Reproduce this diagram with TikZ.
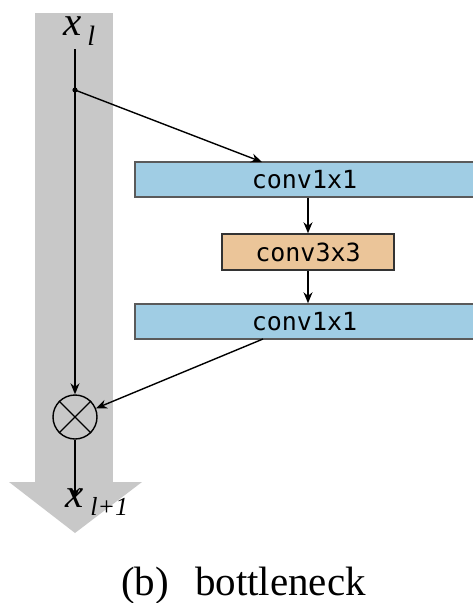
\documentclass[tikz,border=0pt]{standalone}
\usepackage{fontspec}
\setmainfont{Liberation Serif}
\newfontfamily\boxfont{DejaVu Sans Mono}
\usetikzlibrary{arrows.meta}
\definecolor{colgray}{RGB}{200,200,200}
\definecolor{boxblue}{RGB}{160,205,228}
\definecolor{boxorange}{RGB}{235,197,153}
\definecolor{boxedge}{RGB}{90,90,90}
\tikzset{
  flow/.style={draw=black, line width=1.4pt, -{Stealth[length=11pt,width=9pt]}},
  plainline/.style={draw=black, line width=1.4pt},
  bluebox/.style={draw=boxedge, fill=boxblue, line width=1.5pt, minimum width=339pt, minimum height=35pt, inner sep=0pt, font=\boxfont\fontsize{25}{27}\selectfont},
  orangebox/.style={draw=black!80, fill=boxorange, line width=1.5pt, minimum width=172pt, minimum height=36pt, inner sep=0pt, font=\boxfont\fontsize{25}{27}\selectfont},
  sumnode/.style={circle, draw=black, line width=1.4pt, minimum size=44pt, inner sep=0pt},
  labeltext/.style={inner sep=0pt, anchor=base west},
}
\begin{document}
\begin{tikzpicture}[x=1pt,y=-1pt]
\useasboundingbox (0,0) rectangle (472,603);
% gray highway
\fill[colgray] (35,13) rectangle (113,482);
\fill[colgray] (9,482) -- (142,482) -- (75,533) -- cycle;
% labels
\node[labeltext] (xl) at (63,35) {\fontsize{41}{43}\selectfont\itshape x\hspace{6pt}\raisebox{-10pt}{\fontsize{28}{30}\selectfont l}};
% boxes
\node[bluebox] (c1) at (304.5,179.5) {conv1x1};
\node[orangebox] (c2) at (308,252) {conv3x3};
\node[bluebox] (c3) at (304.5,321.5) {conv1x1};
% sum node
\node[sumnode] (add) at (75,417) {};
\draw[line width=1.4pt] (add.north west) -- (add.south east) (add.north east) -- (add.south west);
% coordinates
\coordinate (start) at (75,49);
\coordinate (split) at (75,90);
\coordinate (out) at (75,499);
\coordinate (c1in) at (262,162);
\coordinate (c3out) at (263,339);
% connectors
\draw[plainline] (start) -- (split);
\draw[flow] (split) -- (add.north);
\fill (split) circle (2.6pt);
\draw[flow] (split) -- (c1in);
\draw[flow] (c1.south -| c2.north) -- (c2.north);
\draw[flow] (c2.south) -- (c3.north -| c2.south);
\draw[flow] (c3out) -- (add);
\draw[flow] (add.south) -- (out);
% output label
\node[labeltext] (xl1) at (65,507) {\fontsize{41}{43}\selectfont\itshape x\hspace{7pt}\raisebox{-8pt}{\fontsize{26}{28}\selectfont l+1}};
% caption
\node[labeltext] (cap) at (121,595) {\fontsize{41}{43}\selectfont (b)\hspace{26pt}bottleneck};
\end{tikzpicture}
\end{document}
